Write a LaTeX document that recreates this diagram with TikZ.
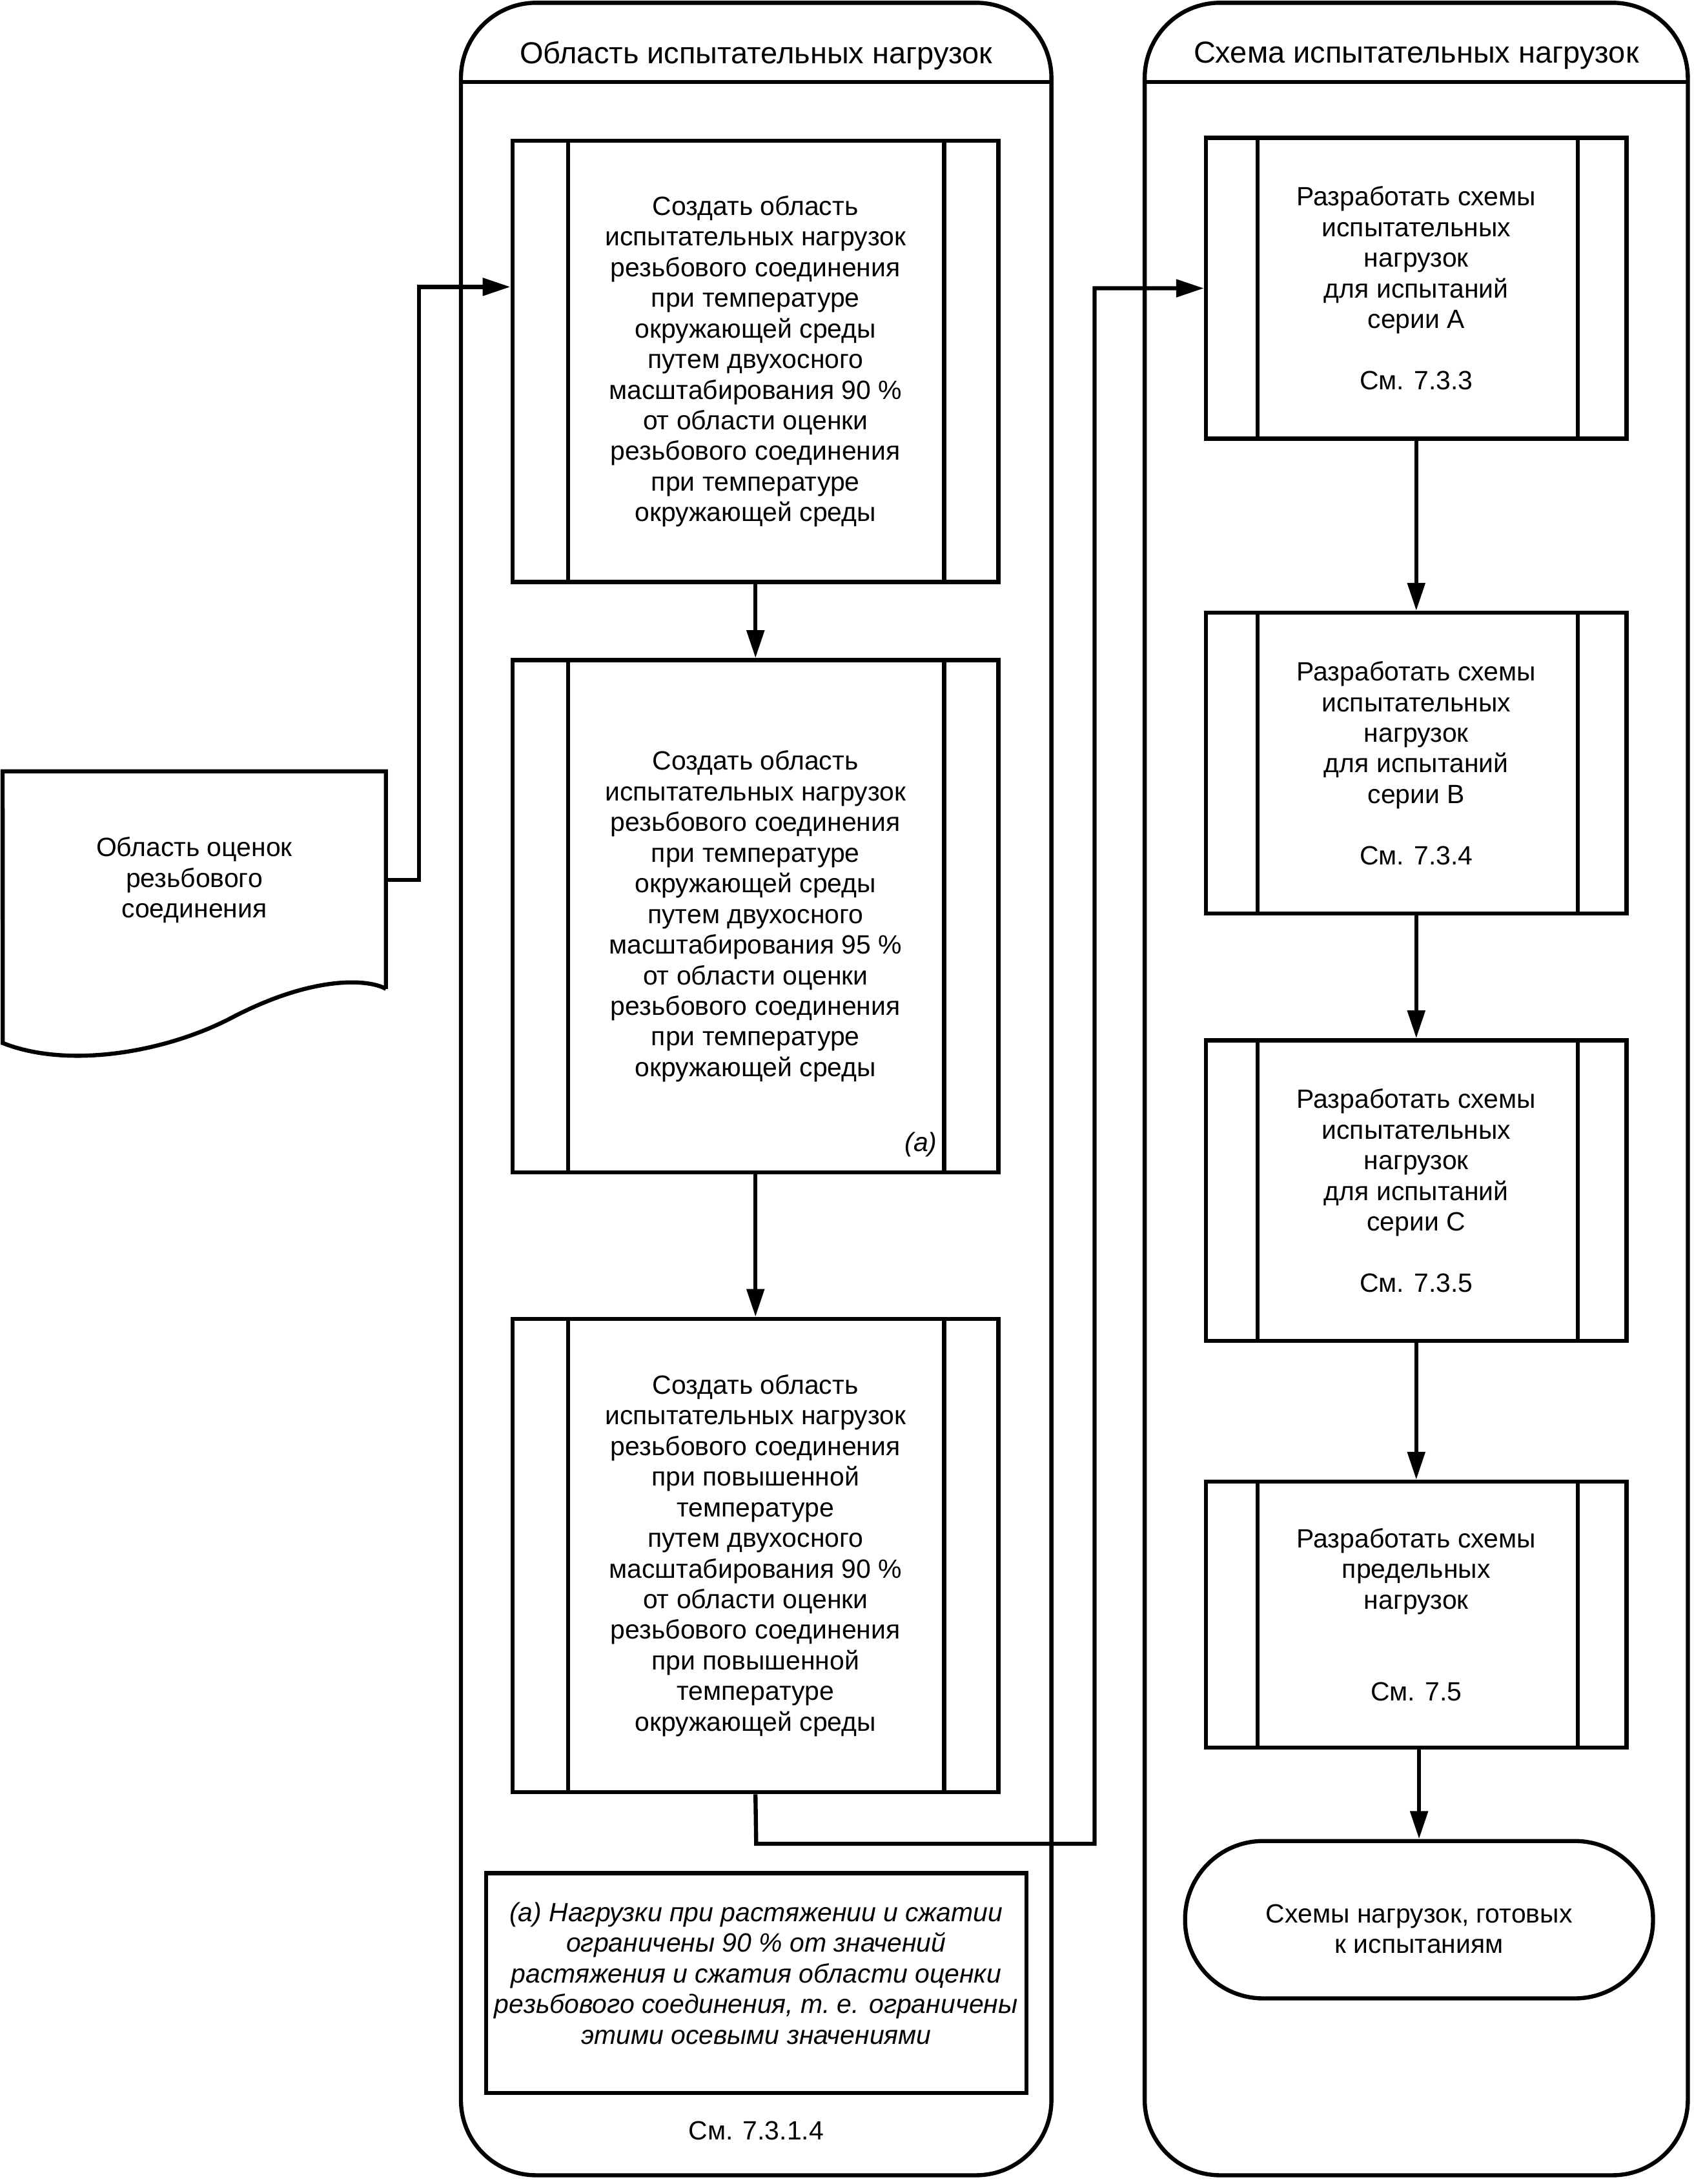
\documentclass[tikz,border=0pt]{standalone}
\usepackage{fontspec}
\setmainfont{Liberation Sans}
\usetikzlibrary{arrows.meta}
\tikzset{
  ln/.style={line width=4.2pt, line join=miter},
  arr/.style={ln, -{Triangle[length=1cm,width=0.62cm]}},
  txt/.style={align=center, inner sep=0pt, font=\fontsize{27}{31.3}\selectfont},
  ttl/.style={align=center, inner sep=0pt, font=\fontsize{31}{36}\selectfont},
  ital/.style={align=center, inner sep=0pt, font=\fontsize{27}{31.3}\selectfont\itshape},
  procL/.style={ln, draw, txt, minimum width=17.45cm, path picture={
      \draw[ln] ([xshift=2cm]path picture bounding box.north west) -- ([xshift=2cm]path picture bounding box.south west);
      \draw[ln] ([xshift=-1.95cm]path picture bounding box.north east) -- ([xshift=-1.95cm]path picture bounding box.south east);}},
  procR/.style={ln, draw, txt, minimum width=15.1cm, minimum height=10.8cm, path picture={
      \draw[ln] ([xshift=1.85cm]path picture bounding box.north west) -- ([xshift=1.85cm]path picture bounding box.south west);
      \draw[ln] ([xshift=-1.75cm]path picture bounding box.north east) -- ([xshift=-1.75cm]path picture bounding box.south east);}},
}
\begin{document}
\begin{tikzpicture}[x=0.05cm,y=-0.05cm]
\useasboundingbox (0,0) rectangle (1216,1568.3);
% lanes
\draw[ln, rounded corners=2.7cm] (331,2) rectangle (755,1562);
\draw[ln] (331,59) -- (755,59);
\draw[ln, rounded corners=2.7cm] (822,2) rectangle (1212,1562);
\draw[ln] (822,59) -- (1212,59);
\node[ttl] (t1) at (543,40) {Область испытательных нагрузок};
\node[ttl] (t2) at (1017,40) {Схема испытательных нагрузок};
% document
\node[txt, minimum width=13.75cm, minimum height=7.8cm] (doc) at (139.5,632) {Область оценок\\резьбового\\соединения};
\draw[ln] (doc.south east) -- (doc.north east) -- (doc.north west) -- (2,749)
  .. controls (50,768) and (120,755) .. (166,731)
  .. controls (225,700) and (265,703) .. (doc.south east);
% left boxes
\node[procL, minimum height=15.85cm] (b1) at (542.5,259.5) {Создать область\\испытательных нагрузок\\резьбового соединения\\при температуре\\окружающей среды\\путем двухосного\\масштабирования 90~\%\\от области оценки\\резьбового соединения\\при температуре\\окружающей среды};
\node[procL, minimum height=18.4cm] (b2) at (542.5,658) {Создать область\\испытательных нагрузок\\резьбового соединения\\при температуре\\окружающей среды\\путем двухосного\\масштабирования 95~\%\\от области оценки\\резьбового соединения\\при температуре\\окружающей среды};
\node[ital, anchor=east] (b2a) at (673,822) {(a)};
\node[procL, minimum height=17cm] (b3) at (542.5,1117) {Создать область\\испытательных нагрузок\\резьбового соединения\\при повышенной\\температуре\\путем двухосного\\масштабирования 90~\%\\от области оценки\\резьбового соединения\\при повышенной\\температуре\\окружающей среды};
\node[ln, draw, minimum width=19.4cm, minimum height=7.9cm] (note) at (543,1424) {};
\node[ital] (notetext) at (543,1417) {(a) Нагрузки при растяжении и сжатии\\ограничены 90~\% от значений\\растяжения и сжатия области оценки\\резьбового соединения, т.~е. ограничены\\этими осевыми значениями};
\node[txt] (ref1) at (543,1530) {См. 7.3.1.4};
% right boxes
\node[procR] (ba) at (1017,207) {Разработать схемы\\испытательных\\нагрузок\\для испытаний\\серии А\\[31.3pt]См. 7.3.3};
\node[procR] (bb) at (1017,548) {Разработать схемы\\испытательных\\нагрузок\\для испытаний\\серии В\\[31.3pt]См. 7.3.4};
\node[procR] (bc) at (1017,855) {Разработать схемы\\испытательных\\нагрузок\\для испытаний\\серии С\\[31.3pt]См. 7.3.5};
\node[procR, minimum height=9.55cm] (bd) at (1017,1159.5) {Разработать схемы\\предельных\\нагрузок\\[62.6pt]См. 7.5};
\node[ln, draw, rounded corners=2.8cm, minimum width=16.8cm, minimum height=5.65cm] (term) at (1019,1378.5) {};
\node[txt] (termtext) at (1019,1385) {Схемы нагрузок, готовых\\к испытаниям};
% connectors
\draw[arr] (doc.east) -- (301,632) -- (301,206) -- (b1.west |- 0,206);
\draw[arr] (b1) -- (b2);
\draw[arr] (b2) -- (b3);
\draw[arr] (b3.south) -- (543,1324) -- (786,1324) -- (786,207) -- (ba.west);
\draw[arr] (ba) -- (bb);
\draw[arr] (bb) -- (bc);
\draw[arr] (bc) -- (bd);
\draw[arr] (bd.south -| term.north) -- (term.north);
\end{tikzpicture}
\end{document}
